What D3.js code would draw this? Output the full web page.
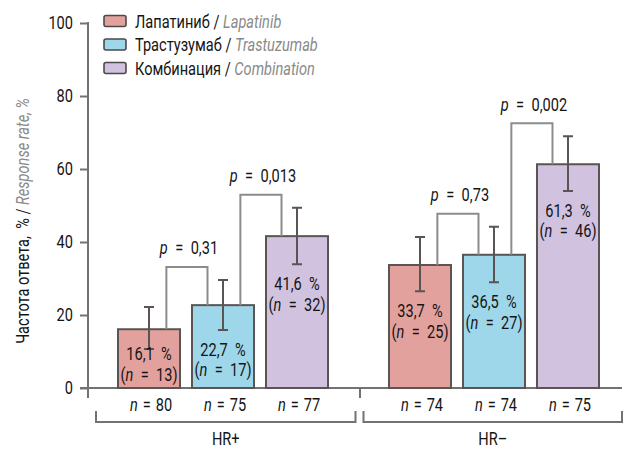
<!DOCTYPE html>
<html>
<head>
<meta charset="utf-8">
<script src="https://cdn.jsdelivr.net/npm/d3@7"></script>
<style>
  html, body { margin: 0; padding: 0; background: #fff; }
  svg text { font-family: Roboto, "Noto Sans", "DejaVu Sans", sans-serif; white-space: pre; }
</style>
</head>
<body>
<svg id="chart" width="625" height="450"></svg>
<script>
// Response rate by hormone-receptor status and treatment arm
const groups = ["HR+", "HR–"];
const treatments = ["Лапатиниб", "Трастузумаб", "Комбинация"];
const treatmentsEn = ["Lapatinib", "Trastuzumab", "Combination"];
const responseRate = [[16.1, 22.7, 41.6], [33.7, 36.5, 61.3]];
const ciLow = [[10.7, 15.9, 33.9], [26.5, 29.0, 54.0]];
const ciHigh = [[22.2, 29.6, 49.4], [41.4, 44.2, 69.0]];
const responders = [[13, 17, 32], [25, 27, 46]];
const totals = [[80, 75, 77], [74, 74, 75]];
// pairwise comparisons within each group: [from arm, to arm, p]
const comparisons = [
  [[0, 1, "0,31"], [1, 2, "0,013"]],
  [[0, 1, "0,73"], [1, 2, "0,002"]]
];
const yTicks = [0, 20, 40, 60, 80, 100];

const fills = ["#e3a19e", "#9fd7ea", "#d1c3e0"];
const barStroke = "#5a5454";
const axisColor = "#727272";
const bracketColor = "#8c8c8c";
const grey = "#8a8a8a";
const ink = "#141414";
const FS = 17.8;
const SX = 0.82;          // horizontal condensing of all lettering
const EN = "\u2002";      // wide space around "="
const MID = "\u2004";

const svg = d3.select("#chart");

// condensed text: parts = [[string, italic?, colour?], ...]
function label(parent, x, yy, anchor, parts, extra) {
  const t = parent.append("text")
    .attr("transform", `translate(${x},${yy})${extra || ""} scale(${SX},1)`)
    .attr("text-anchor", anchor)
    .style("font-size", FS + "px").attr("fill", ink);
  parts.forEach(([s, it, col]) => {
    const sp = t.append("tspan").text(s);
    if (it) sp.style("font-style", "italic");
    if (col) sp.attr("fill", col);
  });
  return t;
}

const y = d3.scaleLinear().domain([0, 100]).range([388, 23]);
const x0 = d3.scaleBand().domain(groups).range([88, 629])
  .paddingInner(0.225).paddingOuter(0.1107);
const x1 = d3.scaleBand().domain(d3.range(treatments.length))
  .range([0, x0.bandwidth()]).paddingInner(0.162).paddingOuter(0);
const bw = x1.bandwidth();
const fmt = v => d3.format(".1f")(v).replace(".", ",");

// y axis
const yAxis = d3.axisLeft(y).tickValues(yTicks).tickSize(8).tickPadding(7);
const gy = svg.append("g").attr("transform", "translate(88,0)").call(yAxis);
gy.select(".domain").remove();
gy.selectAll(".tick line").attr("stroke", axisColor).attr("stroke-width", 2);
gy.selectAll(".tick text").attr("fill", ink)
  .attr("x", -15 / SX).attr("transform", `scale(${SX},1)`)
  .style("font-size", FS + "px")
  .style("font-family", 'Roboto, "Noto Sans", sans-serif');
svg.append("line").attr("x1", 88).attr("x2", 88).attr("y1", y(100) - 1).attr("y2", y(0) + 10)
  .attr("stroke", axisColor).attr("stroke-width", 2);
// baseline
svg.append("line").attr("x1", 80).attr("x2", 622).attr("y1", y(0)).attr("y2", y(0))
  .attr("stroke", axisColor).attr("stroke-width", 2);

// group divider tick
const divX = (x0(groups[0]) + x0.bandwidth() + x0(groups[1])) / 2 + 1.5;
svg.append("line").attr("x1", divX).attr("x2", divX).attr("y1", y(0)).attr("y2", y(0) + 10)
  .attr("stroke", axisColor).attr("stroke-width", 2);

// y axis title
label(svg, 29, 221, "middle",
  [["Частота ответа,  % / "], ["Response rate, %", true, grey]], " rotate(-90)");

// bars
groups.forEach((g, gi) => {
  const gx = x0(g);
  treatments.forEach((t, ti) => {
    const bx = gx + x1(ti);
    const v = responseRate[gi][ti];
    svg.append("rect")
      .attr("x", bx).attr("y", y(v)).attr("width", bw).attr("height", y(0) - y(v))
      .attr("fill", fills[ti]).attr("stroke", barStroke).attr("stroke-width", 2);
  });
});

// comparison brackets with p values
groups.forEach((g, gi) => {
  const gx = x0(g);
  comparisons[gi].forEach(([a, b, p]) => {
    const xa = gx + x1(a) + bw * 0.78;
    const xb = gx + x1(b) + bw * 0.25;
    const top = Math.min(y(ciHigh[gi][a]), y(ciHigh[gi][b])) - 13;
    svg.append("path")
      .attr("d", `M${xa},${y(responseRate[gi][a])}V${top}H${xb}V${y(responseRate[gi][b])}`)
      .attr("fill", "none").attr("stroke", bracketColor).attr("stroke-width", 2);
    label(svg, (xa + xb) / 2 + 2, top - 12.5, "middle", [["p", true], [EN + "=" + EN + p]]);
  });
});

// error bars, value labels, group sizes
groups.forEach((g, gi) => {
  const gx = x0(g);
  treatments.forEach((t, ti) => {
    const cx = gx + x1(ti) + bw / 2;
    const lo = ciLow[gi][ti], hi = ciHigh[gi][ti];
    svg.append("path")
      .attr("d", `M${cx},${y(hi)}V${y(lo)}M${cx - 5},${y(hi)}H${cx + 5}M${cx - 5},${y(lo)}H${cx + 5}`)
      .attr("fill", "none").attr("stroke", "#5a5454").attr("stroke-width", 2);

    const b1 = Math.min(y(lo) + 26, y(0) - 28);
    label(svg, cx, b1, "middle", [[fmt(responseRate[gi][ti]) + "  %"]]);
    label(svg, cx, b1 + 20.5, "middle",
      [["("], ["n", true], [EN + "=" + EN + responders[gi][ti] + ")"]]);
    label(svg, cx + 2, 411, "middle", [["n", true], [MID + "=" + MID + totals[gi][ti]]]);
  });

  // group brace
  const left = gi === 0 ? 96 : divX + 3.5;
  const right = gi === 0 ? divX - 4.5 : 622;
  svg.append("path")
    .attr("d", `M${left},411V422H${right}V411`)
    .attr("fill", "none").attr("stroke", axisColor).attr("stroke-width", 2);
  label(svg, (left + right) / 2, 445, "middle", [[g]]);
});

// legend
const legend = svg.append("g");
treatments.forEach((t, i) => {
  const by = 27.5 + i * 23.5;
  legend.append("rect").attr("x", 104).attr("y", by - 12).attr("width", 22).attr("height", 11)
    .attr("rx", 2).attr("fill", fills[i]).attr("stroke", "#4a4a4a").attr("stroke-width", 1.6);
  label(legend, 135, by, "start", [[t + " / "], [treatmentsEn[i], true, grey]]);
});
</script>
</body>
</html>
